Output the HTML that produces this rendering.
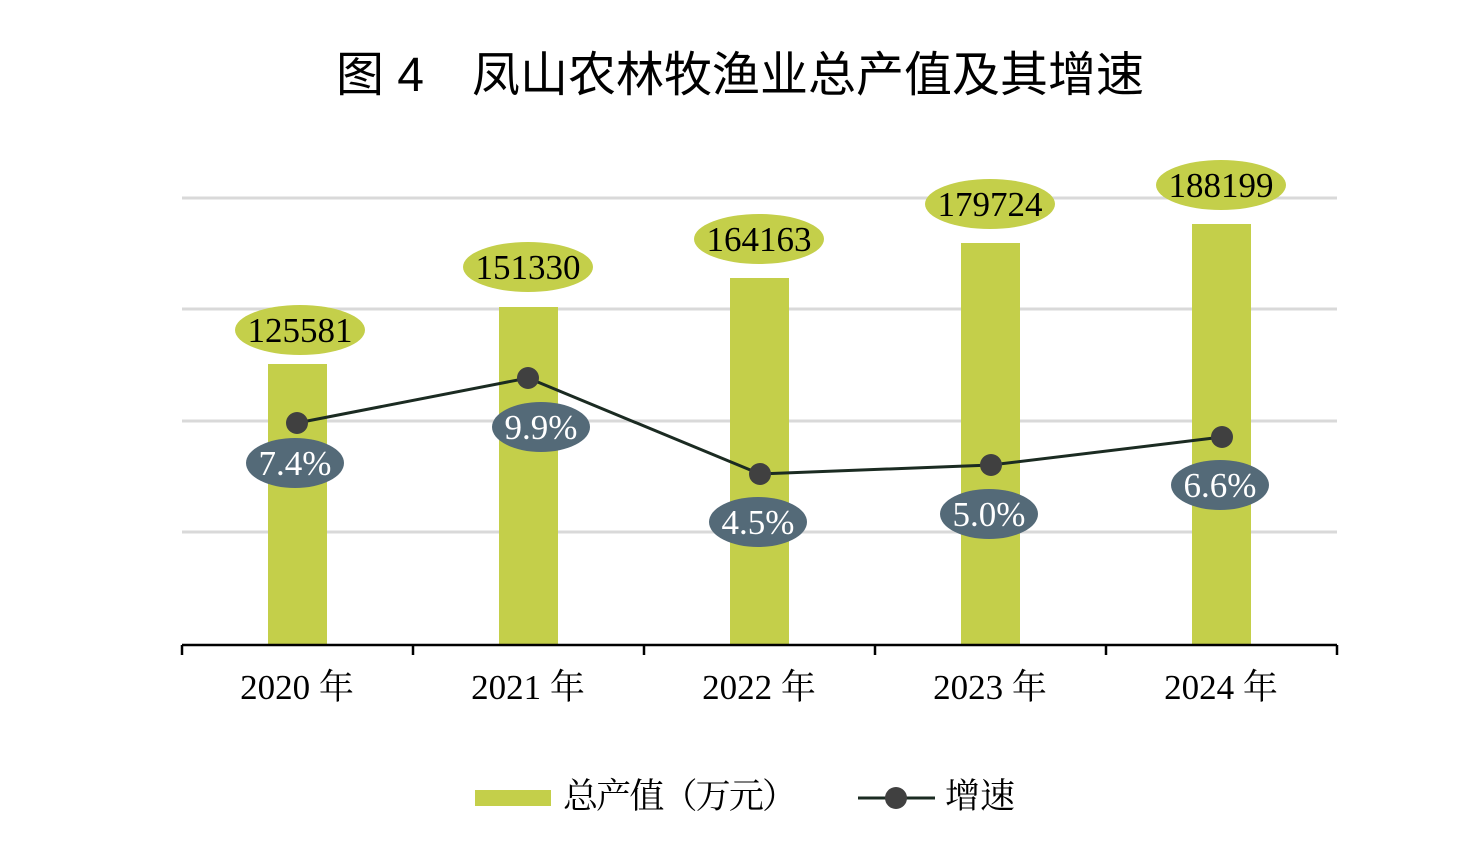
<!DOCTYPE html>
<html><head><meta charset="utf-8"><style>html,body{margin:0;padding:0;background:#fff}svg{display:block}</style></head>
<body>
<svg width="1482" height="852" viewBox="0 0 1482 852" xmlns="http://www.w3.org/2000/svg">
<text x="740" y="91" text-anchor="middle" font-family="'Liberation Sans','Noto Sans CJK SC',sans-serif" font-size="48" fill="#000">图 4　凤山农林牧渔业总产值及其增速</text>
<g stroke="#d9d9d9" stroke-width="3">
<line x1="182" y1="198" x2="1337" y2="198"/><line x1="182" y1="309" x2="1337" y2="309"/>
<line x1="182" y1="421" x2="1337" y2="421"/><line x1="182" y1="532" x2="1337" y2="532"/>
</g>
<g fill="#c4cf4a">
<rect x="268" y="364" width="59" height="280"/><rect x="499" y="307" width="59" height="337"/>
<rect x="730" y="278" width="59" height="366"/><rect x="961" y="243" width="59" height="401"/>
<rect x="1192" y="224" width="59" height="420"/>
</g>
<g stroke="#000" stroke-width="2.5"><line x1="182" y1="645" x2="1337" y2="645"/>
<line x1="182" y1="645" x2="182" y2="655"/><line x1="413" y1="645" x2="413" y2="655"/><line x1="644" y1="645" x2="644" y2="655"/><line x1="875" y1="645" x2="875" y2="655"/><line x1="1106" y1="645" x2="1106" y2="655"/><line x1="1337" y1="645" x2="1337" y2="655"/></g>
<g fill="#c4cf4a">
<ellipse cx="300" cy="330" rx="65" ry="25"/><ellipse cx="528" cy="267" rx="65" ry="25"/>
<ellipse cx="759" cy="239" rx="65" ry="25"/><ellipse cx="990" cy="204" rx="65" ry="25"/><ellipse cx="1221" cy="185" rx="65" ry="25"/>
</g>
<g font-family="'Liberation Serif',serif" font-size="35" fill="#000" text-anchor="middle">
<text x="300" y="342">125581</text><text x="528" y="279">151330</text><text x="759" y="251">164163</text><text x="990" y="216">179724</text><text x="1221" y="197">188199</text>
</g>
<polyline points="297,423 528,378 760,474 991,465 1222,437" fill="none" stroke="#1b2b22" stroke-width="3"/>
<g fill="#404040"><circle cx="297" cy="423" r="11"/><circle cx="528" cy="378" r="11"/><circle cx="760" cy="474" r="11"/><circle cx="991" cy="465" r="11"/><circle cx="1222" cy="437" r="11"/></g>
<g fill="#546a78">
<ellipse cx="295" cy="463" rx="49" ry="25"/><ellipse cx="541" cy="427" rx="49" ry="25"/><ellipse cx="758" cy="522" rx="49" ry="25"/><ellipse cx="989" cy="514" rx="49" ry="25"/><ellipse cx="1220" cy="485" rx="49" ry="25"/>
</g>
<g font-family="'Liberation Serif',serif" font-size="35" fill="#fff" text-anchor="middle">
<text x="295" y="475">7.4%</text><text x="541" y="439">9.9%</text><text x="758" y="534">4.5%</text><text x="989" y="526">5.0%</text><text x="1220" y="497">6.6%</text>
</g>
<g font-family="'Liberation Serif','Noto Serif CJK SC',serif" font-size="35" fill="#000" text-anchor="middle">
<text x="297" y="699">2020 年</text><text x="528" y="699">2021 年</text><text x="759" y="699">2022 年</text><text x="990" y="699">2023 年</text><text x="1221" y="699">2024 年</text>
</g>
<rect x="475" y="790" width="76" height="16" fill="#c4cf4a"/>
<text x="563" y="808" font-family="'Liberation Serif','Noto Serif CJK SC',serif" font-size="35" fill="#000" textLength="234">总产值（万元）</text>
<line x1="858" y1="798" x2="935" y2="798" stroke="#1b2b22" stroke-width="3"/>
<circle cx="896" cy="798" r="11" fill="#404040"/>
<text x="945" y="808" font-family="'Liberation Serif','Noto Serif CJK SC',serif" font-size="35" fill="#000">增速</text>
</svg>
</body></html>
